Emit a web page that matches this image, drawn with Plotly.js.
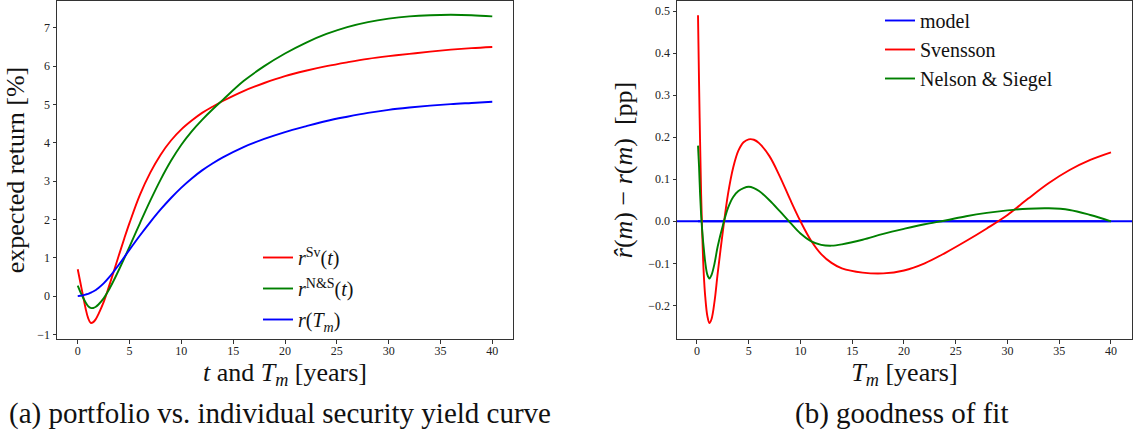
<!DOCTYPE html>
<html>
<head>
<meta charset="utf-8">
<script src="https://cdn.plot.ly/plotly-3.0.1.min.js"></script>
<style>html,body{margin:0;padding:0;background:#fff;}#chart{width:1138px;height:441px;}</style>
</head>
<body>
<div id="chart"></div>
<script>
// ---- panel (a): expected return [%] vs t and T_m [years]
const tLeft = [0, 0.25, 0.5, 0.75, 1, 1.25, 1.5, 1.75, 2, 2.5, 3, 3.5, 4, 4.5, 5, 6, 7, 8, 9, 10, 11, 12, 13, 14, 16, 18, 20, 22, 24, 26, 28, 30, 32, 34, 36, 38, 40];
const rSv  = [0.70, 0.36, 0.02, -0.31, -0.57, -0.70, -0.68, -0.60, -0.47, -0.16, 0.24, 0.66, 1.09, 1.51, 1.91, 2.64, 3.22, 3.69, 4.06, 4.35, 4.58, 4.78, 4.94, 5.09, 5.35, 5.56, 5.74, 5.88, 6.00, 6.10, 6.19, 6.26, 6.32, 6.38, 6.43, 6.47, 6.50];
const rNS  = [0.27, 0.11, -0.03, -0.16, -0.26, -0.31, -0.31, -0.28, -0.22, -0.06, 0.16, 0.42, 0.70, 0.99, 1.29, 1.90, 2.49, 3.04, 3.53, 3.95, 4.30, 4.60, 4.87, 5.12, 5.61, 6.00, 6.33, 6.61, 6.84, 7.02, 7.15, 7.24, 7.30, 7.33, 7.34, 7.33, 7.30];
const rTm  = [0.00, 0.01, 0.02, 0.04, 0.06, 0.09, 0.12, 0.16, 0.21, 0.33, 0.48, 0.65, 0.83, 1.02, 1.21, 1.58, 1.93, 2.26, 2.56, 2.83, 3.07, 3.28, 3.46, 3.62, 3.89, 4.10, 4.28, 4.43, 4.57, 4.68, 4.78, 4.86, 4.92, 4.97, 5.01, 5.04, 5.07];

// ---- panel (b): goodness of fit, r̂(m) − r(m) [pp] vs T_m [years]
const tRight = [0.1, 0.15, 0.2, 0.3, 0.4, 0.5, 0.6, 0.7, 0.8, 1.0, 1.2, 1.4, 1.7, 2.0, 2.5, 3, 3.5, 4, 4.5, 5, 5.5, 6, 7, 8, 9, 10, 11, 12, 13, 14, 16, 18, 20, 22, 24, 26, 28, 30, 32, 34, 36, 38, 40];
const diffSv = [0.49, 0.41, 0.33, 0.19, 0.065, -0.025, -0.095, -0.145, -0.18, -0.225, -0.242, -0.233, -0.19, -0.124, -0.024, 0.065, 0.128, 0.168, 0.188, 0.195, 0.194, 0.186, 0.155, 0.107, 0.052, 0.0, -0.045, -0.078, -0.099, -0.112, -0.122, -0.124, -0.117, -0.100, -0.075, -0.047, -0.017, 0.015, 0.054, 0.091, 0.122, 0.146, 0.164];
const diffNS = [0.18, 0.155, 0.13, 0.065, 0.015, -0.02, -0.05, -0.075, -0.098, -0.127, -0.136, -0.128, -0.10, -0.06, -0.01, 0.032, 0.058, 0.072, 0.079, 0.082, 0.079, 0.072, 0.050, 0.024, -0.003, -0.029, -0.047, -0.056, -0.058, -0.055, -0.044, -0.030, -0.018, -0.007, 0.002, 0.012, 0.020, 0.026, 0.030, 0.031, 0.027, 0.015, 0.0];
const diffModel = tRight.map(() => 0);

const leftNames = ['<i>r</i><sup>Sv</sup>(<i>t</i>)', '<i>r</i><sup>N&amp;S</sup>(<i>t</i>)', '<i>r</i>(<i>T<sub>m</sub></i>)'];
const rightNames = ['model', 'Svensson', 'Nelson &amp; Siegel'];
const xTicks = [0, 5, 10, 15, 20, 25, 30, 35, 40];
const leftYTicks = [-1, 0, 1, 2, 3, 4, 5, 6, 7];
const rightYTicks = [-0.2, -0.1, 0.0, 0.1, 0.2, 0.3, 0.4, 0.5];

const RED = '#ff0000', GREEN = '#008000', BLUE = '#0000ff';
const SERIF = 'Liberation Serif, DejaVu Serif, serif';
const LW = 1.9;
const SPL = {shape: 'spline', smoothing: 1};

const traces = [
  {x: tLeft, y: rSv, mode: 'lines', line: Object.assign({color: RED, width: LW}, SPL), name: leftNames[0], xaxis: 'x', yaxis: 'y', legend: 'legend', legendgroup: 'a1'},
  {x: tLeft, y: rNS, mode: 'lines', line: Object.assign({color: GREEN, width: LW}, SPL), name: leftNames[1], xaxis: 'x', yaxis: 'y', legend: 'legend', legendgroup: 'a2'},
  {x: tLeft, y: rTm, mode: 'lines', line: Object.assign({color: BLUE, width: LW}, SPL), name: leftNames[2], xaxis: 'x', yaxis: 'y', legend: 'legend', legendgroup: 'a3'},
  {x: tRight, y: diffModel, mode: 'lines', line: {color: BLUE, width: LW}, name: rightNames[0], xaxis: 'x2', yaxis: 'y2', legend: 'legend2', legendgroup: 'b1'},
  {x: tRight, y: diffSv, mode: 'lines', line: Object.assign({color: RED, width: LW}, SPL), name: rightNames[1], xaxis: 'x2', yaxis: 'y2', legend: 'legend2', legendgroup: 'b2'},
  {x: tRight, y: diffNS, mode: 'lines', line: Object.assign({color: GREEN, width: LW}, SPL), name: rightNames[2], xaxis: 'x2', yaxis: 'y2', legend: 'legend2', legendgroup: 'b3'}
];

const axisCommon = {
  showgrid: false, zeroline: false, showline: true, mirror: true,
  linecolor: '#333', linewidth: 1,
  ticks: 'outside', ticklen: 3.5, tickwidth: 1, tickcolor: '#333',
  tickfont: {family: SERIF, size: 12, color: '#222'}
};
const TF = {family: SERIF, size: 26, color: '#111'};

const W = 1138, H = 441, ML = 57, MR = 6, PW = W - ML - MR, PH = 338;
const px = v => (v - ML) / PW;
const py = v => 1 - (v - 1) / PH;

const layout = {
  width: W, height: H,
  margin: {l: ML, r: MR, t: 1, b: 102},
  paper_bgcolor: '#fff', plot_bgcolor: '#fff',
  showlegend: true,
  font: {family: SERIF, color: '#111'},
  xaxis: Object.assign({}, axisCommon, {
    domain: [0, px(513)], range: [-2, 42], tickvals: xTicks, anchor: 'y', ticklabelstandoff: -3,
    title: {text: '<i>t</i> and <i>T<sub>m</sub></i> [years]', font: TF, standoff: 0}
  }),
  yaxis: Object.assign({}, axisCommon, {
    domain: [0, 1], range: [-1.12, 7.70], tickvals: leftYTicks, anchor: 'x',
    title: {text: 'expected return [%]', font: TF, standoff: 5}
  }),
  xaxis2: Object.assign({}, axisCommon, {
    domain: [px(677), 1], range: [-1.93, 42.03], tickvals: xTicks, anchor: 'y2', ticklabelstandoff: -3,
    title: {text: '<i>T<sub>m</sub></i> [years]', font: TF, standoff: 0}
  }),
  yaxis2: Object.assign({}, axisCommon, {
    domain: [0, 1], range: [-0.28, 0.524], tickvals: rightYTicks, tickformat: '.1f', anchor: 'x2',
    title: {text: '<i>r\u0302</i>(<i>m</i>) \u2212 <i>r</i>(<i>m</i>)  [pp]', font: TF, standoff: 8}
  }),
  legend: {
    x: px(258), y: py(238), xanchor: 'left', yanchor: 'top',
    bgcolor: 'rgba(0,0,0,0)', borderwidth: 0,
    font: {family: SERIF, size: 20, color: '#111'},
    traceorder: 'grouped', tracegroupgap: 2, itemwidth: 30
  },
  legend2: {
    x: px(880), y: 1, xanchor: 'left', yanchor: 'top',
    bgcolor: 'rgba(0,0,0,0)', borderwidth: 0,
    font: {family: SERIF, size: 20, color: '#111'},
    traceorder: 'grouped', tracegroupgap: 0, itemwidth: 30
  },
  shapes: [
    {type: 'line', xref: 'x2 domain', yref: 'y2', x0: 0, x1: 1, y0: 0, y1: 0, line: {color: BLUE, width: LW}, layer: 'below'}
  ],
  annotations: [
    {text: '(a) portfolio vs. individual security yield curve', xref: 'paper', yref: 'paper', x: px(280), y: -(414 - 339) / PH, xanchor: 'center', yanchor: 'middle', showarrow: false, font: {family: SERIF, size: 29, color: '#111'}},
    {text: '(b) goodness of fit', xref: 'paper', yref: 'paper', x: px(901), y: -(414 - 339) / PH, xanchor: 'center', yanchor: 'middle', showarrow: false, font: {family: SERIF, size: 29, color: '#111'}}
  ]
};

Plotly.newPlot('chart', traces, layout, {displayModeBar: false, staticPlot: true});
</script>
</body>
</html>
